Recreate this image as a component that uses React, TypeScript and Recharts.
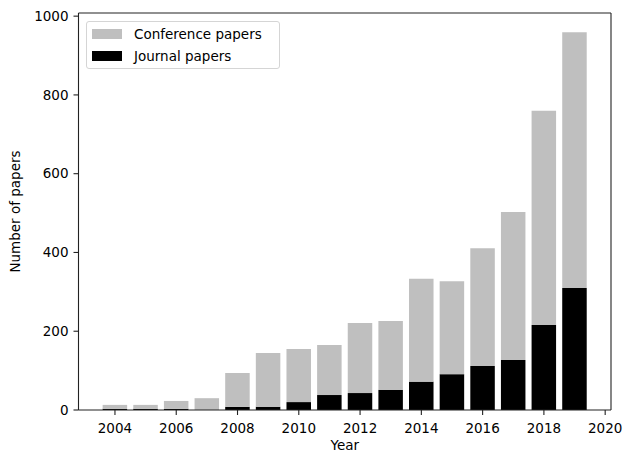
import { Bar, BarChart, Label, ReferenceLine, XAxis, YAxis } from "recharts";

const years = [2004, 2005, 2006, 2007, 2008, 2009, 2010, 2011, 2012, 2013, 2014, 2015, 2016, 2017, 2018, 2019];
const journalPapers = [3, 3, 3, 0, 8, 8, 20, 38, 43, 51, 72, 91, 112, 127, 216, 310];
const conferencePapers = [10, 10, 20, 30, 86, 137, 135, 127, 178, 175, 261, 236, 299, 376, 544, 649];
const xTicks = [2004, 2006, 2008, 2010, 2012, 2014, 2016, 2018, 2020];
const yTicks = [0, 200, 400, 600, 800, 1000];

const font = "DejaVu Sans";
const axisColor = "#222";
const tickStyle = { fill: "#000", fontSize: 13.5, fontFamily: font };
const xDomain: [number, number] = [2002.81, 2020.19];
const yDomain: [number, number] = [0, 1008];

const data = years.map((year, i) => ({
  year,
  journal: journalPapers[i],
  conference: conferencePapers[i],
}));

const legendItems = [
  { label: "Conference papers", color: "#bfbfbf" },
  { label: "Journal papers", color: "#000000" },
];

function LegendBox() {
  return (
    <div
      style={{
        position: "absolute",
        left: 86,
        top: 21,
        width: 194,
        height: 48,
        border: "1px solid #d5d5d5",
        borderRadius: 3,
        background: "rgba(255,255,255,0.8)",
        boxSizing: "border-box",
        padding: "1px 0 0 5px",
        fontFamily: font,
        fontSize: 13.5,
      }}
    >
      {legendItems.map((item) => (
        <div key={item.label} style={{ display: "flex", alignItems: "center", height: 22 }}>
          <span style={{ display: "inline-block", width: 30, height: 10.5, background: item.color }} />
          <span style={{ marginLeft: 12, color: "#000" }}>{item.label}</span>
        </div>
      ))}
    </div>
  );
}

export default function App() {
  return (
    <div style={{ position: "absolute", left: 0, top: 0, width: 624, height: 453, background: "#fff" }}>
      <BarChart width={624} height={453} data={data} margin={{ top: 13, right: 13, bottom: 0, left: 0 }}>
        <XAxis
          dataKey="year"
          type="number"
          domain={xDomain}
          ticks={xTicks}
          height={43}
          tickSize={5}
          tickMargin={8}
          tick={tickStyle}
          tickLine={{ stroke: axisColor, strokeWidth: 1.1 }}
          axisLine={{ stroke: axisColor, strokeWidth: 1.1 }}
        >
          <Label value="Year" position="insideBottom" offset={3} style={{ fontFamily: font, fontSize: 13.5, fill: "#000" }} />
        </XAxis>
        <YAxis
          domain={yDomain}
          ticks={yTicks}
          width={78.5}
          tickSize={5}
          tickMargin={5}
          tick={tickStyle}
          tickLine={{ stroke: axisColor, strokeWidth: 1.1 }}
          axisLine={{ stroke: axisColor, strokeWidth: 1.1 }}
        >
          <Label
            content={({ viewBox }: any) => {
              const cy = viewBox.y + viewBox.height / 2;
              return (
                <text
                  x={15}
                  y={cy}
                  transform={`rotate(-90 15 ${cy})`}
                  textAnchor="middle"
                  dominantBaseline="central"
                  style={{ fontFamily: font, fontSize: 13.5, fill: "#000" }}
                >
                  Number of papers
                </text>
              );
            }}
          />
        </YAxis>
        <Bar dataKey="journal" name="Journal papers" stackId="a" fill="#000000" barSize={24.5} isAnimationActive={false} />
        <Bar dataKey="conference" name="Conference papers" stackId="a" fill="#bfbfbf" barSize={24.5} isAnimationActive={false} />
        <ReferenceLine y={yDomain[1]} stroke={axisColor} strokeWidth={1.1} />
        <ReferenceLine x={xDomain[1]} stroke={axisColor} strokeWidth={1.1} />
      </BarChart>
      <LegendBox />
    </div>
  );
}
